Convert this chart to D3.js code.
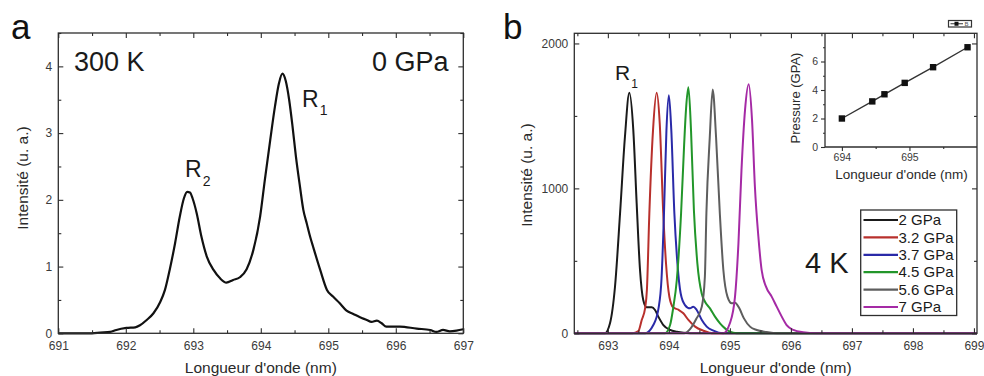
<!DOCTYPE html>
<html>
<head>
<meta charset="utf-8">
<script src="https://cdn.jsdelivr.net/npm/d3@7/dist/d3.min.js"></script>
<style>
  html, body { margin: 0; padding: 0; background: #fff; }
  svg { display: block; font-family: "Liberation Sans", Arial, sans-serif; }
  .tick text { fill: #3a3a3a; }
</style>
</head>
<body>
<svg id="chart" width="984" height="376"></svg>
<script>
// ---------- DATA ----------
// Panel a : 300 K, 0 GPa spectrum
const wlA  = [691.0, 691.3, 691.5, 691.62, 691.77, 691.86, 692.01, 692.14, 692.21, 692.31, 692.41, 692.51, 692.58, 692.65, 692.73, 692.80, 692.86, 692.91, 692.95, 692.99, 693.05, 693.12, 693.20, 693.30, 693.40, 693.49, 693.59, 693.69, 693.79, 693.89, 693.99, 694.06, 694.14, 694.21, 694.27, 694.32, 694.37, 694.42, 694.47, 694.52, 694.58, 694.63, 694.68, 694.73, 694.78, 694.88, 694.98, 695.07, 695.17, 695.27, 695.37, 695.47, 695.57, 695.64, 695.72, 695.79, 695.86, 696.06, 696.31, 696.51, 696.60, 696.70, 696.80, 696.90, 697.0];
const intA = [0, 0, 0, 0.01, 0.02, 0.05, 0.08, 0.09, 0.12, 0.2, 0.3, 0.47, 0.65, 0.95, 1.35, 1.75, 2.02, 2.12, 2.11, 2.02, 1.8, 1.45, 1.15, 0.95, 0.82, 0.76, 0.8, 0.84, 0.96, 1.25, 1.75, 2.3, 2.9, 3.4, 3.75, 3.89, 3.78, 3.5, 3.1, 2.65, 2.2, 1.85, 1.65, 1.45, 1.28, 0.95, 0.65, 0.55, 0.45, 0.34, 0.29, 0.24, 0.2, 0.17, 0.19, 0.15, 0.1, 0.1, 0.07, 0.05, 0.02, 0.05, 0.03, 0.04, 0.06];

// Panel b : 4 K spectra at several pressures
const pressureLabels = ["2 GPa", "3.2 GPa", "3.7 GPa", "4.5 GPa", "5.6 GPa", "7 GPa"];
const wl2GPa   = [692.45, 692.95, 693.035, 693.117, 693.20, 693.28, 693.352, 693.417, 693.472, 693.527, 693.58, 693.636, 693.718, 693.773, 693.827, 693.91, 694.02, 694.13, 694.35, 699.05];
const int2GPa  = [0, 0, 69, 321, 828, 1356, 1659, 1402, 898, 437, 230, 179, 179, 161, 115, 57, 23, 10, 0, 0];
const wl32GPa  = [692.45, 693.40, 693.50, 693.555, 693.61, 693.64, 693.68, 693.74, 693.80, 693.85, 693.908, 693.953, 694.008, 694.07, 694.155, 694.237, 694.32, 694.43, 694.565, 694.73, 699.05];
const int32GPa = [0, 0, 15, 92, 172, 300, 828, 1400, 1659, 1450, 828, 483, 252, 179, 163, 138, 92, 46, 18, 0, 0];
const wl37GPa  = [692.45, 693.61, 693.745, 693.83, 693.88, 693.92, 693.96, 694.00, 694.04, 694.09, 694.14, 694.193, 694.264, 694.346, 694.40, 694.456, 694.54, 694.62, 694.73, 694.89, 699.05];
const int37GPa = [0, 0, 57, 172, 380, 828, 1400, 1643, 1400, 828, 483, 276, 195, 172, 184, 161, 92, 46, 18, 0, 0];
const wl45GPa  = [692.45, 693.937, 694.02, 694.07, 694.13, 694.20, 694.25, 694.28, 694.32, 694.363, 694.41, 694.467, 694.537, 694.592, 694.674, 694.756, 694.838, 694.92, 695.0, 695.11, 699.05];
const int45GPa = [0, 0, 57, 172, 368, 828, 1300, 1540, 1697, 1400, 851, 483, 276, 218, 172, 115, 69, 34, 11, 0, 0];
const wl56GPa  = [692.45, 694.25, 694.35, 694.45, 694.54, 694.59, 694.615, 694.67, 694.718, 694.773, 694.835, 694.893, 694.96, 695.03, 695.084, 695.155, 695.23, 695.33, 695.44, 695.60, 695.77, 699.05];
const int56GPa = [0, 0, 30, 100, 184, 390, 828, 1350, 1683, 1356, 828, 437, 253, 207, 211, 172, 103, 46, 23, 9, 0, 0];
const wl7GPa   = [692.45, 694.89, 695.0, 695.084, 695.14, 695.19, 695.248, 695.308, 695.363, 695.41, 695.467, 695.52, 695.592, 695.685, 695.767, 695.85, 695.93, 696.04, 696.2, 696.42, 699.05];
const int7GPa  = [0, 0, 69, 253, 620, 1126, 1540, 1719, 1471, 1011, 666, 437, 322, 253, 184, 115, 57, 23, 7, 0, 0];

// Inset : pressure vs R1 wavelength
const insetWl       = [694.0, 694.45, 694.63, 694.93, 695.35, 695.86];
const insetPressure = [2, 3.2, 3.7, 4.5, 5.6, 7];

// Tick values
const ticksAx = [691, 692, 693, 694, 695, 696, 697];
const ticksAy = [0, 1, 2, 3, 4];
const ticksBx = [693, 694, 695, 696, 697, 698, 699];
const ticksBy = [0, 1000, 2000];
const ticksInsetX = [694, 695];
const ticksInsetY = [0, 2, 4, 6];

// ---------- STYLE ----------
const seriesColors = ["#1a1a1a", "#b8302c", "#2a2aa8", "#22962a", "#5e5e5e", "#a52aa5"];
const frameColor = "#2e2e2e";

const svg = d3.select("#chart");

// ---------- helpers ----------
function framedAxes(g, x, y, xt, yt, xMinorStep, yMinorStep) {
  const [x0, x1] = x.range();
  const [y0, y1] = y.range(); // y0 bottom, y1 top
  const xd = x.domain(), yd = y.domain();
  const xMinor = d3.range(Math.ceil(xd[0] / xMinorStep) * xMinorStep, xd[1] + 1e-9, xMinorStep)
    .filter(v => !xt.some(t => Math.abs(t - v) < 1e-6));
  const yMinor = d3.range(Math.ceil(yd[0] / yMinorStep) * yMinorStep, yd[1] + 1e-9, yMinorStep)
    .filter(v => !yt.some(t => Math.abs(t - v) < 1e-6));

  const mk = (axis, tr) => {
    const a = g.append("g").attr("transform", tr).call(axis);
    a.select(".domain").remove();
    a.selectAll(".tick line").attr("stroke", frameColor).attr("stroke-width", 1.1);
    a.selectAll(".tick text").attr("font-size", 12).attr("fill", "#3a3a3a");
    return a;
  };
  mk(d3.axisBottom(x).tickValues(xt).tickSize(-5).tickPadding(8).tickFormat(d3.format("d")), `translate(0,${y0})`);
  mk(d3.axisBottom(x).tickValues(xMinor).tickSize(-3).tickFormat(""), `translate(0,${y0})`);
  mk(d3.axisTop(x).tickValues(xt).tickSize(-5).tickFormat(""), `translate(0,${y1})`);
  mk(d3.axisTop(x).tickValues(xMinor).tickSize(-3).tickFormat(""), `translate(0,${y1})`);
  mk(d3.axisLeft(y).tickValues(yt).tickSize(-5).tickPadding(6).tickFormat(d3.format("d")), `translate(${x0},0)`);
  mk(d3.axisLeft(y).tickValues(yMinor).tickSize(-3).tickFormat(""), `translate(${x0},0)`);
  mk(d3.axisRight(y).tickValues(yt).tickSize(-5).tickFormat(""), `translate(${x1},0)`);
  mk(d3.axisRight(y).tickValues(yMinor).tickSize(-3).tickFormat(""), `translate(${x1},0)`);

  g.append("rect")
    .attr("x", x0).attr("y", y1)
    .attr("width", x1 - x0).attr("height", y0 - y1)
    .attr("fill", "none").attr("stroke", frameColor).attr("stroke-width", 1.3);
}

function label(g, x, y, txt, size, anchor, sub, subSize) {
  const t = g.append("text").attr("x", x).attr("y", y)
    .attr("font-size", size).attr("fill", "#1a1a1a")
    .attr("text-anchor", anchor || "start").text(txt);
  if (sub) {
    t.append("tspan").attr("font-size", subSize).attr("dy", size * 0.38).attr("dx", 1).text(sub);
  }
  return t;
}

// ---------- PANEL A ----------
const gA = svg.append("g");
const xA = d3.scaleLinear().domain([691, 697]).range([58.3, 463.3]);
const yA = d3.scaleLinear().domain([0, 4.5]).range([333.3, 33]);

const lineA = d3.line().x(d => xA(d[0])).y(d => yA(d[1])).curve(d3.curveMonotoneX);
gA.append("path")
  .datum(d3.zip(wlA, intA))
  .attr("d", lineA)
  .attr("fill", "none").attr("stroke", "#111").attr("stroke-width", 2.2)
  .attr("stroke-linejoin", "round");

framedAxes(gA, xA, yA, ticksAx, ticksAy, 0.5, 0.5);

gA.append("text").attr("x", 11).attr("y", 39).attr("font-size", 35).attr("fill", "#111").text("a");
label(gA, 74, 71, "300 K", 27, "start");
label(gA, 448.5, 70.5, "0 GPa", 27, "end");
label(gA, 185, 177, "R", 23, "start", "2", 14);
label(gA, 302, 106.5, "R", 23, "start", "1", 14);

gA.append("text").attr("x", (58.3 + 463.3) / 2).attr("y", 373)
  .attr("text-anchor", "middle").attr("font-size", 15.5).attr("fill", "#2a2a2a")
  .text("Longueur d'onde (nm)");
gA.append("text").attr("transform", "translate(28,178) rotate(-90)")
  .attr("text-anchor", "middle").attr("font-size", 15.5).attr("fill", "#2a2a2a")
  .text("Intensité (u. a.)");

// ---------- PANEL B ----------
const gB = svg.append("g");
const xB = d3.scaleLinear().domain([692.45, 699.05]).range([574.3, 977]);
const yB = d3.scaleLinear().domain([0, 2070]).range([333.3, 33.3]);

const seriesB = [
  d3.zip(wl2GPa, int2GPa),
  d3.zip(wl32GPa, int32GPa),
  d3.zip(wl37GPa, int37GPa),
  d3.zip(wl45GPa, int45GPa),
  d3.zip(wl56GPa, int56GPa),
  d3.zip(wl7GPa, int7GPa)
];
const lineB = d3.line().x(d => xB(d[0])).y(d => yB(d[1])).curve(d3.curveMonotoneX);
gB.selectAll("path.spec").data(seriesB).join("path")
  .attr("class", "spec")
  .attr("d", lineB)
  .attr("fill", "none")
  .attr("stroke", (d, i) => seriesColors[i])
  .attr("stroke-width", 2)
  .attr("stroke-linejoin", "round");

framedAxes(gB, xB, yB, ticksBx, ticksBy, 0.5, 500);

gB.append("text").attr("x", 503).attr("y", 39).attr("font-size", 35).attr("fill", "#111").text("b");
label(gB, 615, 80, "R", 21, "start", "1", 12);
label(gB, 805, 272.5, "4 K", 29, "start");

gB.append("text").attr("x", (574.3 + 977) / 2).attr("y", 373)
  .attr("text-anchor", "middle").attr("font-size", 15.5).attr("fill", "#2a2a2a")
  .text("Longueur d'onde (nm)");
gB.append("text").attr("transform", "translate(532,175) rotate(-90)")
  .attr("text-anchor", "middle").attr("font-size", 15.5).attr("fill", "#2a2a2a")
  .text("Intensité (u. a.)");

// Legend
const lg = gB.append("g");
lg.append("rect").attr("x", 860.7).attr("y", 210).attr("width", 96).attr("height", 105.5)
  .attr("fill", "#fff").attr("stroke", frameColor).attr("stroke-width", 1.3);
const legY = d3.scaleLinear().domain([0, 5]).range([220, 307]);
pressureLabels.forEach((p, i) => {
  lg.append("line").attr("x1", 863.5).attr("x2", 898).attr("y1", legY(i)).attr("y2", legY(i))
    .attr("stroke", seriesColors[i]).attr("stroke-width", 2.2);
  lg.append("text").attr("x", 898.5).attr("y", legY(i) + 5.2).attr("font-size", 15)
    .attr("fill", "#1a1a1a").text(p);
});

// ---------- INSET ----------
const gI = svg.append("g");
const xI = d3.scaleLinear().domain([693.75, 696.0]).range([825, 977]);
const yI = d3.scaleLinear().domain([0, 8]).range([147, 33]);

const axI = (axis, tr) => {
  const a = gI.append("g").attr("transform", tr).call(axis);
  a.select(".domain").remove();
  a.selectAll(".tick line").attr("stroke", frameColor).attr("stroke-width", 1.1);
  a.selectAll(".tick text").attr("font-size", 10.5).attr("fill", "#3a3a3a");
};
axI(d3.axisBottom(xI).tickValues(ticksInsetX).tickSize(4).tickPadding(3).tickFormat(d3.format("d")), "translate(0,147)");
axI(d3.axisBottom(xI).tickValues([694.5, 695.5]).tickSize(2).tickFormat(""), "translate(0,147)");
axI(d3.axisLeft(yI).tickValues(ticksInsetY).tickSize(4).tickPadding(3).tickFormat(d3.format("d")), "translate(825,0)");
axI(d3.axisLeft(yI).tickValues([1, 3, 5, 7]).tickSize(2).tickFormat(""), "translate(825,0)");
gI.append("line").attr("x1", 825).attr("x2", 825).attr("y1", 33).attr("y2", 147)
  .attr("stroke", frameColor).attr("stroke-width", 1.3);
gI.append("line").attr("x1", 825).attr("x2", 977).attr("y1", 147).attr("y2", 147)
  .attr("stroke", frameColor).attr("stroke-width", 1.3);

const insetData = d3.zip(insetWl, insetPressure);
gI.append("path").datum(insetData)
  .attr("d", d3.line().x(d => xI(d[0])).y(d => yI(d[1])))
  .attr("fill", "none").attr("stroke", "#333").attr("stroke-width", 1.4);
gI.selectAll("rect.pt").data(insetData).join("rect")
  .attr("class", "pt")
  .attr("x", d => xI(d[0]) - 3.2).attr("y", d => yI(d[1]) - 3.2)
  .attr("width", 6.4).attr("height", 6.4).attr("fill", "#111");

gI.append("text").attr("x", 901.5).attr("y", 178.5).attr("text-anchor", "middle")
  .attr("font-size", 13.5).attr("fill", "#2a2a2a").text("Longueur d'onde (nm)");
gI.append("text").attr("transform", "translate(799.5,98) rotate(-90)").attr("text-anchor", "middle")
  .attr("font-size", 13).attr("fill", "#2a2a2a").text("Pressure (GPA)");

// tiny inset legend
const il = gI.append("g");
il.append("rect").attr("x", 948.5).attr("y", 20.5).attr("width", 23).attr("height", 6.5)
  .attr("fill", "#fff").attr("stroke", "#333").attr("stroke-width", 1.2);
il.append("line").attr("x1", 950.5).attr("x2", 963).attr("y1", 23.75).attr("y2", 23.75)
  .attr("stroke", "#333").attr("stroke-width", 1);
il.append("rect").attr("x", 954.5).attr("y", 21.75).attr("width", 4).attr("height", 4).attr("fill", "#111");
il.append("text").attr("x", 964.5).attr("y", 26).attr("font-size", 6).attr("fill", "#555").text("B");
</script>
</body>
</html>
